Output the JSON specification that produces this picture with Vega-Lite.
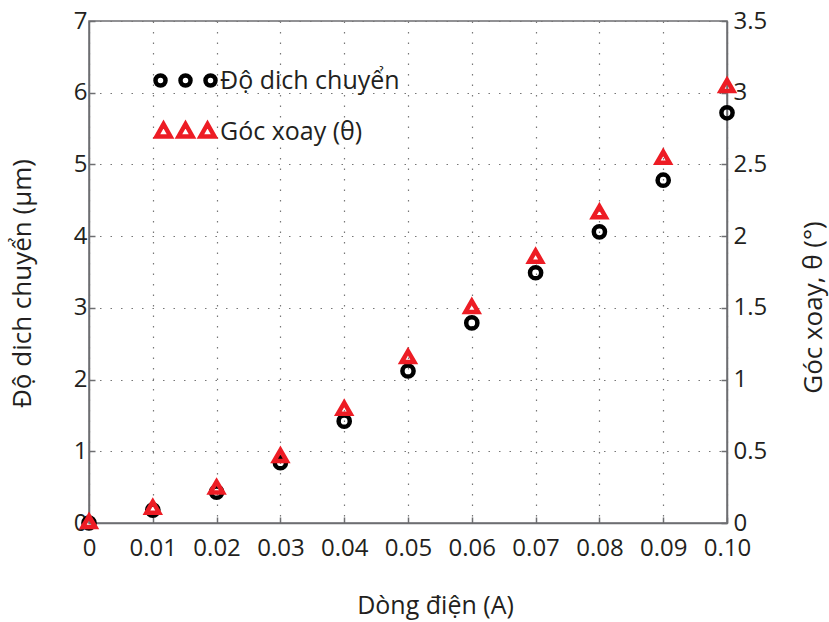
{
  "$schema": "https://vega.github.io/schema/vega-lite/v6.json",
  "width": 638,
  "height": 502,
  "autosize": "none",
  "padding": {"left": 89, "top": 21, "right": 102, "bottom": 99},
  "background": "white",
  "config": {
    "view": {"stroke": "#6d6e71", "strokeWidth": 1.5},
    "font": "Open Sans",
    "axis": {
      "labelFont": "Open Sans",
      "titleFont": "Open Sans",
      "labelFontSize": 24,
      "titleFontSize": 26,
      "titleFontWeight": "normal",
      "labelColor": "#231f20",
      "titleColor": "#231f20",
      "domainColor": "#6d6e71",
      "domainWidth": 1.5,
      "tickColor": "#6d6e71",
      "tickWidth": 1.5,
      "tickSize": -6,
      "labelFlush": false,
      "labelOverlap": false,
      "gridColor": "#777777",
      "gridDash": [1.5, 9],
      "gridWidth": 1.2,
      "gridOpacity": 1
    },
    "legend": {"labelFont": "Open Sans"}
  },
  "data": {
    "values": [
      {"current": 0.00, "series": "Độ dich chuyển", "value": 0.0},
      {"current": 0.01, "series": "Độ dich chuyển", "value": 0.18},
      {"current": 0.02, "series": "Độ dich chuyển", "value": 0.43},
      {"current": 0.03, "series": "Độ dich chuyển", "value": 0.84},
      {"current": 0.04, "series": "Độ dich chuyển", "value": 1.42},
      {"current": 0.05, "series": "Độ dich chuyển", "value": 2.12},
      {"current": 0.06, "series": "Độ dich chuyển", "value": 2.79},
      {"current": 0.07, "series": "Độ dich chuyển", "value": 3.49},
      {"current": 0.08, "series": "Độ dich chuyển", "value": 4.06},
      {"current": 0.09, "series": "Độ dich chuyển", "value": 4.78},
      {"current": 0.10, "series": "Độ dich chuyển", "value": 5.72},
      {"current": 0.00, "series": "Góc xoay (θ)", "value": 0.01},
      {"current": 0.01, "series": "Góc xoay (θ)", "value": 0.11},
      {"current": 0.02, "series": "Góc xoay (θ)", "value": 0.25},
      {"current": 0.03, "series": "Góc xoay (θ)", "value": 0.47},
      {"current": 0.04, "series": "Góc xoay (θ)", "value": 0.80},
      {"current": 0.05, "series": "Góc xoay (θ)", "value": 1.16},
      {"current": 0.06, "series": "Góc xoay (θ)", "value": 1.51},
      {"current": 0.07, "series": "Góc xoay (θ)", "value": 1.86},
      {"current": 0.08, "series": "Góc xoay (θ)", "value": 2.17},
      {"current": 0.09, "series": "Góc xoay (θ)", "value": 2.55},
      {"current": 0.10, "series": "Góc xoay (θ)", "value": 3.05}
    ]
  },
  "layer": [
    {
      "transform": [{"filter": "datum.series === 'Độ dich chuyển'"}],
      "mark": {"type": "point", "shape": "circle", "filled": false, "size": 125, "strokeWidth": 4.5, "opacity": 1},
      "encoding": {
        "x": {
          "field": "current", "type": "quantitative",
          "scale": {"domain": [0, 0.1], "nice": false, "zero": false},
          "axis": {
            "title": "Dòng điện (A)",
            "titleFontSize": 25,
            "values": [0, 0.01, 0.02, 0.03, 0.04, 0.05, 0.06, 0.07, 0.08, 0.09, 0.1],
            "labelExpr": "datum.value == 0 ? '0' : format(datum.value, '.2f')",
            "grid": true,
            "labelPadding": 19,
            "titlePadding": 33,
            "titleX": 346
          }
        },
        "y": {
          "field": "value", "type": "quantitative",
          "scale": {"domain": [0, 7], "nice": false},
          "axis": {
            "title": "Độ dich chuyển (µm)",
            "values": [0, 1, 2, 3, 4, 5, 6, 7],
            "grid": true,
            "labelPadding": 8,
            "titlePadding": 38,
            "titleY": 262
          }
        },
        "color": {
          "field": "series", "type": "nominal",
          "scale": {"domain": ["Độ dich chuyển", "Góc xoay (θ)"], "range": ["#000000", "#ed1c24"]},
          "legend": {
            "title": null,
            "orient": "none",
            "legendX": 84,
            "legendY": 47,
            "padding": 0,
            "symbolSize": 400,
            "symbolStrokeWidth": 4.5,
            "symbolFillColor": "white",
            "symbolType": {"expr": "datum.value === 'Độ dich chuyển' ? 'M-2.0,0A0.5,0.5,0,1,1,-3.0,0A0.5,0.5,0,1,1,-2.0,0Z M0.5,0A0.5,0.5,0,1,1,-0.5,0A0.5,0.5,0,1,1,0.5,0Z M3.0,0A0.5,0.5,0,1,1,2.0,0A0.5,0.5,0,1,1,3.0,0Z' : 'M-2.2,-0.75L-2.9,0.5L-1.5,0.5Z M0,-0.75L-0.7,0.5L0.7,0.5Z M2.2,-0.75L1.5,0.5L2.9,0.5Z'"},
            "labelFontSize": 25,
            "labelLimit": 400,
            "labelColor": "#231f20",
            "labelOffset": 22,
            "rowPadding": 20
          }
        }
      }
    },
    {
      "transform": [{"filter": "datum.series === 'Góc xoay (θ)'"}],
      "mark": {"type": "point", "shape": "triangle-up", "filled": false, "size": 160, "strokeWidth": 4.5, "opacity": 1},
      "encoding": {
        "x": {"field": "current", "type": "quantitative"},
        "y": {
          "field": "value", "type": "quantitative",
          "scale": {"domain": [0, 3.5], "nice": false},
          "axis": {
            "orient": "right",
            "title": "Góc xoay, θ (°)",
            "titleAngle": 270,
            "values": [0, 0.5, 1, 1.5, 2, 2.5, 3, 3.5],
            "format": "~g",
            "grid": false,
            "labelPadding": 12,
            "titlePadding": 60,
            "titleY": 286
          }
        },
        "color": {"field": "series", "type": "nominal"}
      }
    }
  ],
  "resolve": {"scale": {"y": "independent"}}
}
